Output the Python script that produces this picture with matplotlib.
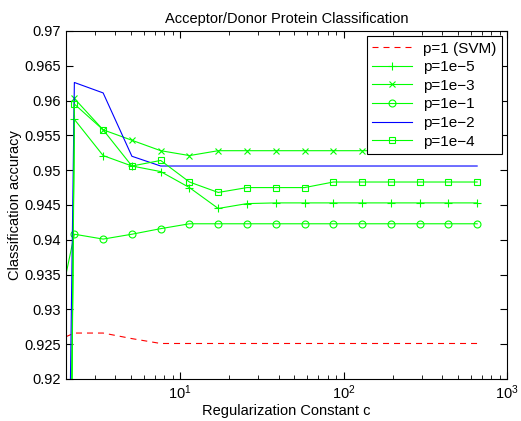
import matplotlib
matplotlib.use("Agg")
import matplotlib.pyplot as plt
from matplotlib.ticker import FixedLocator, FormatStrFormatter, LogLocator, NullFormatter

plt.rcParams['font.family'] = ['Liberation Sans', 'DejaVu Sans']
plt.rcParams['mathtext.default'] = 'regular'

# regularization constants (c = 1.5^k, k = 1..16)
c_values = [1.5, 2.25, 3.375, 5.0625, 7.594, 11.39, 17.09, 25.63,
            38.44, 57.67, 86.5, 129.7, 194.6, 291.9, 437.9, 656.8]

acc_svm = [0.9248, 0.9266, 0.9266, 0.9258, 0.9251, 0.9251, 0.9251, 0.9251,
           0.9251, 0.9251, 0.9251, 0.9251, 0.9251, 0.9251, 0.9251, 0.9251]
acc_1e5 = [0.50, 0.9573, 0.9521, 0.9506, 0.9498, 0.9475, 0.9445, 0.9452,
           0.9453, 0.9453, 0.9453, 0.9453, 0.9453, 0.9453, 0.9453, 0.9453]
acc_1e3 = [0.50, 0.9603, 0.9558, 0.9543, 0.9528, 0.9521, 0.9528, 0.9528,
           0.9528, 0.9528, 0.9528, 0.9528, 0.9528, 0.9528, 0.9528, 0.9528]
acc_1e1 = [0.921, 0.9408, 0.9401, 0.9408, 0.9416, 0.9423, 0.9423, 0.9423,
           0.9423, 0.9423, 0.9423, 0.9423, 0.9423, 0.9423, 0.9423, 0.9423]
acc_1e2 = [0.65, 0.9626, 0.9611, 0.9520, 0.9506, 0.9506, 0.9506, 0.9506,
           0.9506, 0.9506, 0.9506, 0.9506, 0.9506, 0.9506, 0.9506, 0.9506]
acc_1e4 = [0.50, 0.9595, 0.9558, 0.9506, 0.9514, 0.9483, 0.9468, 0.9475,
           0.9475, 0.9475, 0.9483, 0.9483, 0.9483, 0.9483, 0.9483, 0.9483]

y_ticks = [0.92, 0.925, 0.93, 0.935, 0.94, 0.945, 0.95, 0.955, 0.96, 0.965, 0.97]

fig = plt.figure(figsize=(5.21, 4.21), dpi=100)
ax = fig.add_axes([0.1267, 0.0998, 0.8464, 0.8266])

lw = 0.8
ax.plot(c_values, acc_svm, '--', color='#ff0000', lw=lw, dashes=(5.4, 4.5),
        label='p=1 (SVM)')
ax.plot(c_values, acc_1e5, '-', color='#00ff00', lw=lw, marker='+', ms=6, mew=0.8,
        label='p=1e\u22125')
ax.plot(c_values, acc_1e3, '-', color='#00ff00', lw=lw, marker='x', ms=4, mew=0.8,
        label='p=1e\u22123')
ax.plot(c_values, acc_1e1, '-', color='#00ff00', lw=lw, marker='o', ms=5, mew=0.8,
        mfc='none', label='p=1e\u22121')
ax.plot(c_values, acc_1e2, '-', color='#0000ff', lw=lw, label='p=1e\u22122')
ax.plot(c_values, acc_1e4, '-', color='#00ff00', lw=lw, marker='s', ms=4.5, mew=0.8,
        mfc='none', label='p=1e\u22124')

ax.set_xscale('log')
ax.set_xlim(2, 1000)
ax.set_ylim(0.92, 0.97)
ax.yaxis.set_major_locator(FixedLocator(y_ticks))
ax.yaxis.set_major_formatter(FormatStrFormatter('%g'))
ax.xaxis.set_major_locator(LogLocator(base=10, numticks=10))
ax.xaxis.set_minor_locator(LogLocator(base=10, subs=range(2, 10), numticks=20))
ax.xaxis.set_minor_formatter(NullFormatter())

ax.tick_params(which='both', direction='in', top=True, right=True, labelsize=10.5)
ax.tick_params(which='major', length=5, width=0.8)
ax.tick_params(which='minor', length=3, width=0.6)
for s in ax.spines.values():
    s.set_linewidth(0.8)

ax.set_xlabel('Regularization Constant c', fontsize=10.5, labelpad=1)
ax.set_ylabel('Classification accuracy', fontsize=10.5, labelpad=2)
ax.set_title('Acceptor/Donor Protein Classification', fontsize=10.5, pad=6)

leg = ax.legend(loc='upper right', fontsize=11, fancybox=False, framealpha=1,
                edgecolor='black', borderaxespad=0.35, handlelength=2.6,
                labelspacing=0.3, borderpad=0.35, handletextpad=0.7)
leg.get_frame().set_linewidth(0.8)

fig.savefig('out.png', dpi=100)
